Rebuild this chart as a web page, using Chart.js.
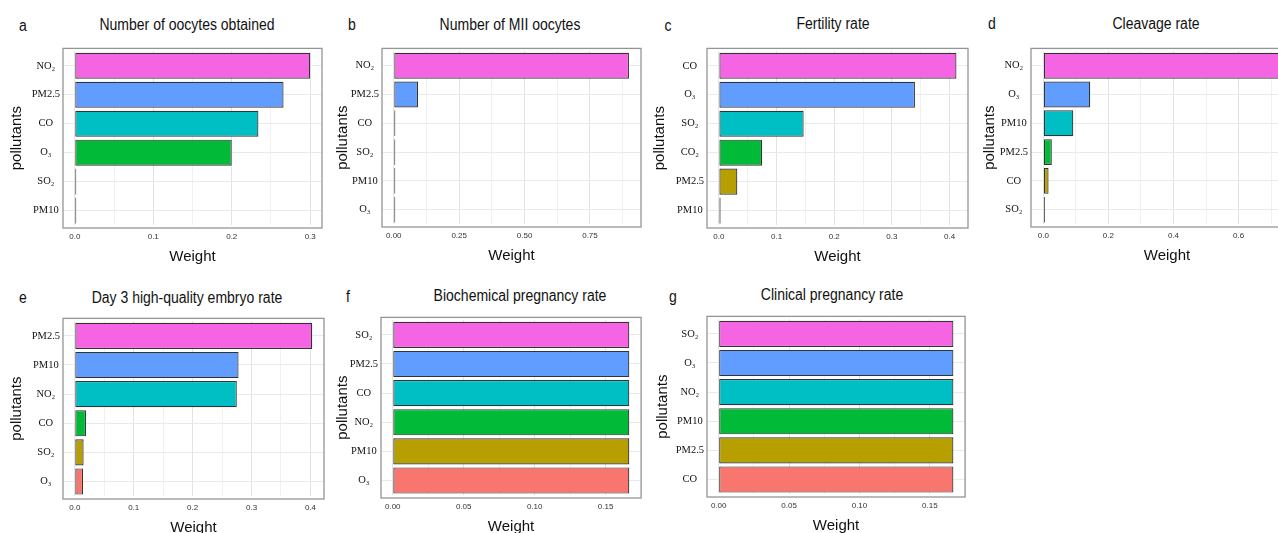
<!DOCTYPE html>
<html>
<head>
<meta charset="utf-8">
<script src="https://cdn.jsdelivr.net/npm/chart.js@4.4.1/dist/chart.umd.min.js"></script>
<style>
  body { margin: 0; width: 1278px; height: 533px; overflow: hidden; background: #fff; position: relative; font-family: "Liberation Sans", Arial, sans-serif; }
  .txt { position: absolute; font-size: 16px; color: #111; white-space: nowrap; transform: translate(-50%, -50%) scaleX(0.875); }
  canvas { position: absolute; }
</style>
</head>
<body>
<script>
// ggplot hue colours, top bar to bottom bar
const hueColors = ['#F564E3', '#619CFF', '#00BFC4', '#00BA38', '#B79F00', '#F8766D'];

// a: Number of oocytes obtained
const labelsA = ['NO₂', 'PM2.5', 'CO', 'O₃', 'SO₂', 'PM10'];
const weightsA = [0.300, 0.266, 0.234, 0.200, 0.0015, 0.0005];

// b: Number of MII oocytes
const labelsB = ['NO₂', 'PM2.5', 'CO', 'SO₂', 'PM10', 'O₃'];
const weightsB = [0.899, 0.093, 0.006, 0.003, 0.001, 0.0005];

// c: Fertility rate
const labelsC = ['CO', 'O₃', 'SO₂', 'CO₂', 'PM2.5', 'PM10'];
const weightsC = [0.412, 0.340, 0.147, 0.075, 0.032, 0.003];

// d: Cleavage rate
const labelsD = ['NO₂', 'O₃', 'PM10', 'PM2.5', 'CO', 'SO₂'];
const weightsD = [0.760, 0.144, 0.092, 0.026, 0.016, 0.002];

// e: Day 3 high-quality embryo rate
const labelsE = ['PM2.5', 'PM10', 'NO₂', 'CO', 'SO₂', 'O₃'];
const weightsE = [0.403, 0.278, 0.275, 0.019, 0.015, 0.014];

// f: Biochemical pregnancy rate
const labelsF = ['SO₂', 'PM2.5', 'CO', 'NO₂', 'PM10', 'O₃'];
const weightsF = [0.1667, 0.1667, 0.1667, 0.1667, 0.1667, 0.1667];

// g: Clinical pregnancy rate
const labelsG = ['SO₂', 'O₃', 'NO₂', 'PM10', 'PM2.5', 'CO'];
const weightsG = [0.1667, 0.1667, 0.1667, 0.1667, 0.1667, 0.1667];

// x axis: range, grid step, labelled step
const panels = [
  { letter: 'a', title: 'Number of oocytes obtained', labels: labelsA, values: weightsA,
    min: -0.015, max: 0.315, step: 0.05, major: 0.1, dec: 1,
    frame: [63, 48, 322, 228], letterAt: [23, 26], titleAt: [187, 25], yTitleOff: 46 },
  { letter: 'b', title: 'Number of MII oocytes', labels: labelsB, values: weightsB,
    min: -0.045, max: 0.945, step: 0.125, major: 0.25, dec: 2,
    frame: [382, 48, 641, 227], letterAt: [352, 25], titleAt: [510, 25], yTitleOff: 39 },
  { letter: 'c', title: 'Fertility rate', labels: labelsC, values: weightsC,
    min: -0.0206, max: 0.432, step: 0.05, major: 0.1, dec: 1,
    frame: [707, 48, 968, 228], letterAt: [668, 26], titleAt: [833, 24], yTitleOff: 47 },
  { letter: 'd', title: 'Cleavage rate', labels: labelsD, values: weightsD,
    min: -0.038, max: 0.798, step: 0.1, major: 0.2, dec: 1,
    frame: [1031, 48, 1303, 227], letterAt: [992, 24], titleAt: [1156, 24], yTitleOff: 41 },
  { letter: 'e', title: 'Day 3 high-quality embryo rate', labels: labelsE, values: weightsE,
    min: -0.020, max: 0.423, step: 0.05, major: 0.1, dec: 1,
    frame: [63, 318, 324, 499], letterAt: [23, 298], titleAt: [187, 298], yTitleOff: 46 },
  { letter: 'f', title: 'Biochemical pregnancy rate', labels: labelsF, values: weightsF,
    min: -0.0083, max: 0.175, step: 0.025, major: 0.05, dec: 2,
    frame: [381, 317, 644, 498], letterAt: [348, 297], titleAt: [520, 296], yTitleOff: 38 },
  { letter: 'g', title: 'Clinical pregnancy rate', labels: labelsG, values: weightsG,
    min: -0.0083, max: 0.175, step: 0.025, major: 0.05, dec: 2,
    frame: [707, 316, 968, 497], letterAt: [673, 297], titleAt: [832, 295], yTitleOff: 44 }
];

// grey panel border, a bit outside the chart area vertically (ggplot's 0.6 band expansion)
const framePlugin = {
  id: 'frame',
  afterDatasetsDraw(chart, args, opts) {
    const { ctx, chartArea: a } = chart;
    ctx.save();
    ctx.strokeStyle = '#959595';
    ctx.lineWidth = 1.3;
    ctx.strokeRect(a.left, a.top - opts.pad, a.right - a.left, a.bottom - a.top + 2 * opts.pad);
    ctx.restore();
  }
};

function addText(cls, text, at) {
  const d = document.createElement('div');
  d.className = cls;
  d.textContent = text;
  d.style.left = at[0] + 'px';
  d.style.top = at[1] + 'px';
  document.body.appendChild(d);
}

function isMajor(v, major) {
  const k = v / major;
  return Math.abs(k - Math.round(k)) < 1e-6 && v > -1e-9;
}

function makePanel(p) {
  const [L, T, R, B] = p.frame;
  const pad = (B - T) / 6.2 * 0.1;
  const yW = p.yTitleOff + 11;
  const left = L - yW;
  const top = T - 6;
  const xH = 40 + pad;

  const canvas = document.createElement('canvas');
  canvas.width = R - left + 4;
  canvas.height = B + 40 - top;
  canvas.style.left = left + 'px';
  canvas.style.top = top + 'px';
  document.body.appendChild(canvas);

  addText('txt', p.letter, p.letterAt);
  addText('txt', p.title, p.titleAt);

  new Chart(canvas, {
    type: 'bar',
    data: {
      labels: p.labels,
      datasets: [{
        data: p.values,
        backgroundColor: hueColors,
        borderColor: '#333333',
        borderWidth: 1.2,
        borderSkipped: false,
        barPercentage: 0.9,
        categoryPercentage: 1,
        minBarLength: 1.5
      }]
    },
    options: {
      indexAxis: 'y',
      responsive: false,
      animation: false,
      layout: { padding: { top: 6 + pad, right: 4, bottom: 0, left: 0 } },
      plugins: {
        legend: { display: false },
        tooltip: { enabled: false },
        frame: { pad: pad }
      },
      scales: {
        x: {
          type: 'linear',
          min: p.min,
          max: p.max,
          afterFit: s => { s.height = xH; },
          border: { display: false },
          grid: {
            drawTicks: false,
            color: c => isMajor(c.tick.value, p.major) ? '#e3e3e3' : '#f1f1f1'
          },
          ticks: {
            stepSize: p.step,
            includeBounds: false,
            autoSkip: false,
            maxRotation: 0,
            padding: 4 + pad,
            color: '#333',
            font: { family: 'Liberation Sans', size: 8 },
            callback: v => isMajor(v, p.major) ? v.toFixed(p.dec) : ''
          },
          title: {
            display: true,
            text: 'Weight',
            color: '#111',
            font: { family: 'Liberation Sans', size: 15 },
            padding: { top: 0, bottom: 2 }
          }
        },
        y: {
          afterFit: s => { s.width = yW; },
          border: { display: false },
          grid: { offset: false, drawTicks: false, color: '#eaeaea' },
          ticks: {
            crossAlign: 'center',
            padding: 3,
            color: '#111',
            font: { family: 'Liberation Serif', size: 10.5 }
          },
          title: {
            display: true,
            text: 'pollutants',
            color: '#111',
            font: { family: 'Liberation Sans', size: 15 },
            padding: { top: 2, bottom: 0 }
          }
        }
      }
    },
    plugins: [framePlugin]
  });
}

panels.forEach(makePanel);
</script>
</body>
</html>
